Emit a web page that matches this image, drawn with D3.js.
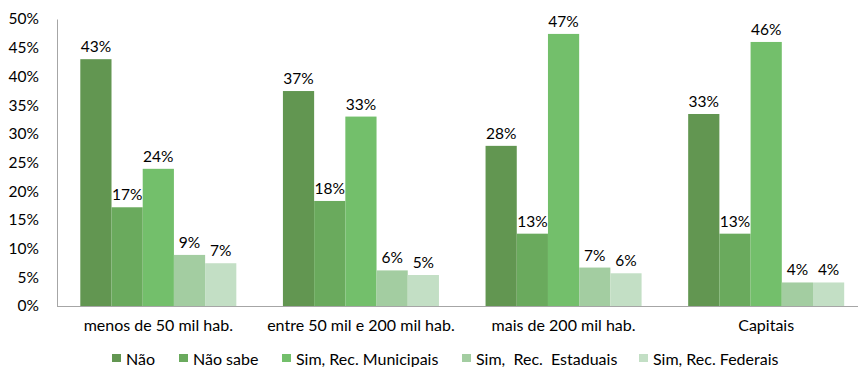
<!DOCTYPE html>
<html><head><meta charset="utf-8">
<script src="https://cdn.jsdelivr.net/npm/d3@7"></script>
<style>body{margin:0;background:#fff}svg{display:block;font-family:Lato,"Open Sans",sans-serif}</style>
</head><body><svg id="c" width="858" height="367"></svg>
<script>
const categories = ["menos de 50 mil hab.", "entre 50 mil e 200 mil hab.", "mais de 200 mil hab.", "Capitais"];
const seriesNames = ["Não", "Não sabe", "Sim, Rec. Municipais", "Sim,  Rec.  Estaduais", "Sim, Rec. Federais"];
const nao = [43.0, 37.45, 27.9, 33.45];
const naoSabe = [17.2, 18.3, 12.6, 12.6];
const simMun = [23.9, 33.0, 47.4, 46.0];
const simEst = [8.9, 6.2, 6.7, 4.1];
const simFed = [7.45, 5.4, 5.7, 4.1];
const yTicks = [0, 5, 10, 15, 20, 25, 30, 35, 40, 45, 50];
const colors = ["#629651", "#6aaa5d", "#73bf6b", "#a3cda1", "#c3dfc5"];

const values = [nao, naoSabe, simMun, simEst, simFed];
const svg = d3.select("#c");
const x0 = d3.scaleBand().domain(categories).range([57, 867.5]).paddingInner(0.23).paddingOuter(0.115);
const x1 = d3.scaleBand().domain(d3.range(5)).range([0, x0.bandwidth()]);
const y = d3.scaleLinear().domain([0, 50]).range([306, 19]);
const FS = 15.5;

// y axis
const ya = svg.append("g").attr("transform", "translate(57,0)")
  .call(d3.axisLeft(y).tickValues(yTicks).tickFormat(d => d + "%").tickSize(0).tickPadding(18));
ya.select(".domain").attr("stroke", "#a6a6a6");
ya.selectAll("text").attr("font-size", FS).attr("fill", "#000").attr("font-family", "Lato, sans-serif");

// bars
categories.forEach((c, ci) => {
  const g = svg.append("g").attr("transform", `translate(${x0(c)},0)`);
  values.forEach((arr, si) => {
    g.append("rect").attr("x", x1(si)).attr("y", y(arr[ci])).attr("width", x1.bandwidth())
      .attr("height", y(0) - y(arr[ci])).attr("fill", colors[si]);
    g.append("text").attr("x", x1(si) + x1.bandwidth() / 2).attr("y", y(arr[ci]) - 7)
      .attr("text-anchor", "middle").attr("font-size", FS).attr("fill", "#000")
      .text(Math.round(arr[ci]) + "%");
  });
});

// x axis
const xa = svg.append("g").attr("transform", "translate(0,306)")
  .call(d3.axisBottom(x0).tickSize(0).tickPadding(14));
xa.select(".domain").attr("stroke", "#a6a6a6").attr("d", "M57,0.5H858");
xa.selectAll("text").attr("font-size", 16).attr("fill", "#000").attr("font-family", "Lato, sans-serif");

// legend
const legX = [112, 179, 282, 462, 639];
seriesNames.forEach((n, i) => {
  svg.append("rect").attr("x", legX[i]).attr("y", 354).attr("width", 9).attr("height", 8).attr("fill", colors[i]);
  svg.append("text").attr("x", legX[i] + 14).attr("y", 365).attr("font-size", 16).attr("fill", "#000")
    .attr("xml:space", "preserve").style("white-space", "pre").text(n);
});
</script></body></html>
